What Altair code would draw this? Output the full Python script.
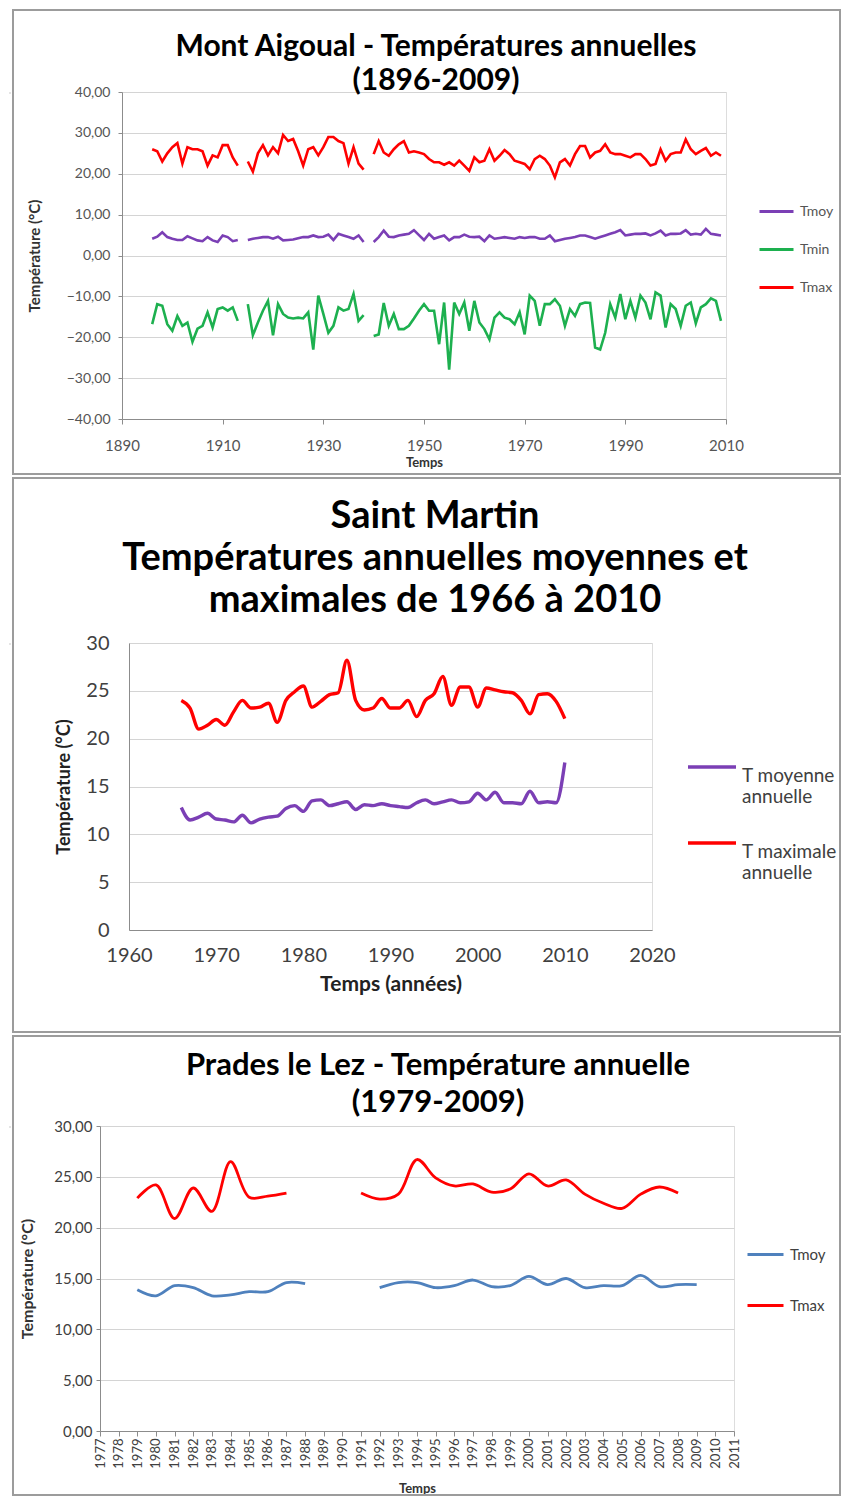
import altair as alt
import pandas as pd

FONT = "Lato"

# ---------------- Mont Aigoual (1896-2009) ; None = année manquante ----------------
aig_years = list(range(1896, 2010))
aig_tmoy = [
    4.1, 4.6, 5.7, 4.5, 4.1, 3.8, 3.8, 4.7, 4.2, 3.7, 3.5, 4.5, 3.7, 3.3, 4.9, 4.5, 3.5, 3.8,
    None,
    3.8, 4.1, 4.3, 4.5, 4.5, 4.1, 4.6, 3.7, 3.8, 3.9, 4.2, 4.5, 4.5, 4.9, 4.5, 4.6, 5.1, 3.8,
    5.3, 4.9, 4.5, 4.1, 4.9, 3.3,
    None,
    3.3, 4.5, 6.1, 4.6, 4.5, 4.9, 5.1, 5.3, 6.2, 5.0,
    3.8, 5.3, 4.1, 4.5, 4.9, 3.7, 4.5, 4.5, 5.1, 4.6,
    4.5, 4.6, 3.5, 4.9, 4.1, 4.3, 4.5, 4.3, 4.1, 4.5,
    4.3, 4.5, 4.5, 4.1, 4.1, 4.9, 3.5, 3.8, 4.1, 4.3,
    4.5, 4.9, 4.9, 4.5, 4.1, 4.5, 4.9, 5.3, 5.7, 6.2,
    4.9, 5.1, 5.3, 5.3, 5.4, 4.9, 5.4, 6.1, 4.9, 5.3,
    5.3, 5.4, 6.2, 5.1, 5.3, 5.1, 6.5, 5.3, 5.1, 4.9,
]
aig_tmin = [
    -16.8, -11.9, -12.3, -16.8, -18.4, -14.8, -17.2, -16.4, -21.1, -17.9, -17.2, -13.9,
    -17.6, -13.1, -12.7, -13.5, -12.7, -16.0,
    None,
    -11.9, -19.5, -16.4, -13.5, -11.1, -19.5, -11.9, -14.3, -15.2, -15.4, -15.2, -15.4,
    -13.9, -23.0, -9.8, -14.3, -18.9, -17.2, -12.7, -13.5, -13.1, -9.4, -16.0, -14.6,
    None,
    -19.7, -19.3, -11.6, -17.2, -14.3, -18.0, -18.0, -17.2, -15.4, -13.5,
    -11.9, -13.5, -13.5, -21.7, -11.5, -27.9, -11.5, -14.3, -11.5, -18.4,
    -11.1, -16.4, -18.0, -20.5, -15.2, -13.9, -15.2, -15.6, -16.8, -13.9,
    -19.3, -9.8, -11.1, -17.2, -11.9, -11.9, -10.7, -12.3, -17.2, -13.1,
    -14.8, -11.9, -11.5, -11.6, -22.5, -23.0, -18.9, -11.9, -15.2, -9.4,
    -15.6, -11.1, -15.2, -9.8, -11.5, -15.6, -9.0, -9.8, -17.6, -11.9,
    -13.1, -17.2, -12.3, -11.5, -16.6, -12.7, -11.9, -10.5, -11.1, -16.0,
]
aig_tmax = [
    26.0, 25.5, 23.0, 25.0, 26.5, 27.5, 22.5, 26.5, 26.0, 26.0, 25.5, 22.0, 24.5, 24.0,
    27.0, 27.0, 24.0, 22.0,
    None,
    23.0, 20.5, 25.0, 27.0, 24.5, 26.5, 25.0, 29.5, 28.0, 28.5, 25.5, 22.0, 26.0, 26.5,
    24.5, 26.5, 29.0, 29.0, 28.0, 27.5, 22.5, 26.5, 22.5, 21.0,
    None,
    24.8, 28.0, 25.2, 24.4, 26.0, 27.2, 28.0, 25.2, 25.5, 25.2,
    24.8, 23.6, 22.8, 22.8, 22.2, 22.8, 22.0, 23.2, 22.0, 20.7,
    24.0, 22.8, 23.2, 26.0, 23.2, 24.4, 25.8, 24.8, 23.2, 22.8,
    22.4, 21.1, 23.6, 24.4, 23.6, 22.0, 19.1, 22.8, 23.6, 22.0,
    24.8, 26.8, 26.8, 24.0, 25.2, 25.6, 27.2, 25.2, 24.8, 24.8,
    24.4, 24.0, 24.8, 24.8, 23.6, 22.0, 22.4, 26.0, 23.2, 24.8,
    25.2, 25.2, 28.4, 26.0, 24.8, 25.6, 26.3, 24.4, 25.2, 24.4,
]
aig_names = ["Tmoy", "Tmin", "Tmax"]
aig_colors = ["#7B3FB5", "#1DB04F", "#FF0000"]
aig_title = ["Mont Aigoual - Températures annuelles", "(1896-2009)"]
aig_xticks = [1890, 1910, 1930, 1950, 1970, 1990, 2010]
aig_yticks = [-40, -30, -20, -10, 0, 10, 20, 30, 40]

# ---------------- Saint Martin (1966-2010) ----------------
sm_years = list(range(1966, 2011))
sm_tmoy = [
    12.8, 11.5, 11.8, 12.2, 11.6, 11.5, 11.3, 12.0, 11.2, 11.6,
    11.8, 11.9, 12.7, 13.0, 12.4, 13.5, 13.6, 13.0, 13.2, 13.4,
    12.6, 13.1, 13.0, 13.2, 13.0, 12.9, 12.8, 13.3, 13.6, 13.2,
    13.4, 13.6, 13.3, 13.4, 14.3, 13.6, 14.4, 13.3, 13.3, 13.2,
    14.5, 13.3, 13.4, 13.3, 17.5,
]
sm_tmax = [
    24.0, 23.2, 21.0, 21.4, 22.0, 21.4, 22.8, 24.0, 23.2, 23.3,
    23.7, 21.7, 24.0, 24.9, 25.5, 23.3, 23.9, 24.6, 24.8, 28.2,
    24.0, 23.0, 23.2, 24.2, 23.2, 23.2, 24.0, 22.3, 24.0, 24.7,
    26.5, 23.5, 25.4, 25.4, 23.3, 25.3, 25.1, 24.9, 24.8, 24.0,
    22.6, 24.6, 24.7, 23.9, 22.1,
]
sm_names = ["T moyenne annuelle", "T maximale annuelle"]
sm_colors = ["#7B3FB5", "#FF0000"]
sm_title = ["Saint Martin", "Températures annuelles moyennes et", "maximales de 1966 à 2010"]
sm_xticks = [1960, 1970, 1980, 1990, 2000, 2010, 2020]
sm_yticks = [0, 5, 10, 15, 20, 25, 30]

# ---------------- Prades le Lez (1979-2009) ----------------
pl_years = list(range(1979, 2010))
pl_tmoy = [
    13.9, 13.3, 14.3, 14.1, 13.3, 13.4, 13.7, 13.7, 14.6, 14.5,
    None, None, None,
    14.1, 14.6, 14.6, 14.1, 14.3, 14.85, 14.2, 14.3, 15.2, 14.4, 15.0,
    14.1, 14.3, 14.3, 15.3, 14.2, 14.4, 14.4,
]
pl_tmax = [
    22.9, 24.2, 20.9, 23.9, 21.6, 26.5, 23.0, 23.1, 23.4,
    None, None, None,
    23.4, 22.8, 23.3, 26.7, 24.9, 24.1, 24.3, 23.5, 23.8, 25.3, 24.1, 24.7,
    23.3, 22.4, 21.9, 23.3, 24.0, 23.4, None,
]
pl_names = ["Tmoy", "Tmax"]
pl_colors = ["#4F81BD", "#FF0000"]
pl_title = ["Prades le Lez - Température annuelle", "(1979-2009)"]
pl_xticks = list(range(1977, 2012))
pl_yticks = [0, 5, 10, 15, 20, 25, 30]


def long_df(years, names, series):
    rows = []
    for name, vals in zip(names, series):
        seg = 0
        for yr, v in zip(years, vals):
            if v is None:
                seg += 1
                continue
            rows.append({"annee": yr, "valeur": v, "serie": name, "seg": f"{name}-{seg}"})
    return pd.DataFrame(rows)


COMMA = "replace(format(datum.value, '.2f'), '.', ',')"
GRID = "#D4D4D4"
DOMAIN = "#8C8C8C"
ONE = alt.Data(values=[{"k": 0}])


def frame(x1, x2, y1, y2):
    return alt.Chart(ONE).mark_rect(fillOpacity=0, stroke="#9C9C9C", strokeWidth=2).encode(
        x=alt.value(x1), x2=alt.value(x2), y=alt.value(y1), y2=alt.value(y2))


def heading(lines, cx, top, size, lh):
    return [
        alt.Chart(ONE).mark_text(
            font=FONT, fontSize=size, fontWeight="bold", color="black",
            align="center", baseline="top",
        ).encode(x=alt.value(cx), y=alt.value(top + i * lh), text=alt.value(t))
        for i, t in enumerate(lines)
    ]


# ---------------- Panel 1 ----------------
W1, H1 = 604, 327
df1 = long_df(aig_years, aig_names, [aig_tmoy, aig_tmin, aig_tmax])
lines1 = alt.Chart(df1).mark_line(strokeWidth=2.6).encode(
    x=alt.X("annee:Q", scale=alt.Scale(domain=[1890, 2010], nice=False, zero=False),
            axis=alt.Axis(values=aig_xticks, format="d", grid=False, title="Temps",
                          labelFlush=False, labelFont=FONT, labelFontSize=15,
                          labelColor="#555555", labelPadding=14, tickSize=5,
                          tickColor=DOMAIN, domainColor=DOMAIN,
                          titleFont=FONT, titleFontSize=13, titleFontWeight="bold",
                          titlePadding=3, titleColor="#333333")),
    y=alt.Y("valeur:Q", scale=alt.Scale(domain=[-40, 40], nice=False, zero=False),
            axis=alt.Axis(values=aig_yticks, labelExpr=COMMA, gridColor=GRID,
                          title="Température (°C)", labelFont=FONT, labelFontSize=14,
                          labelColor="#555555", labelPadding=8, tickSize=4,
                          tickColor=DOMAIN, domainColor=DOMAIN,
                          titleFont=FONT, titleFontSize=15, titleFontWeight="bold",
                          titlePadding=24, titleColor="#333333")),
    color=alt.Color("serie:N", scale=alt.Scale(domain=aig_names, range=aig_colors),
                    legend=alt.Legend(title=None, orient="none", legendX=636, legendY=101,
                                      symbolType="stroke", symbolSize=1156,
                                      symbolStrokeWidth=3, labelFont=FONT,
                                      labelFontSize=14, labelColor="#555555",
                                      labelOffset=5, rowPadding=12, padding=0)),
    detail="seg:N",
)
p1 = alt.layer(
    frame(-109, 718, -82, H1 + 55),
    *heading(aig_title, 314, -60, 30, 34),
    lines1,
).properties(width=W1, height=H1)

# ---------------- Panel 2 ----------------
W2, H2 = 523, 287
df2 = long_df(sm_years, sm_names, [sm_tmoy, sm_tmax])
lines2 = alt.Chart(df2).mark_line(strokeWidth=3.4, interpolate="monotone").encode(
    x=alt.X("annee:Q", scale=alt.Scale(domain=[1960, 2020], nice=False, zero=False),
            axis=alt.Axis(values=sm_xticks, format="d", grid=False, title="Temps (années)",
                          labelFlush=False, labelFont=FONT, labelFontSize=20,
                          labelColor="#404040", labelPadding=15, ticks=False,
                          domainColor=DOMAIN,
                          titleFont=FONT, titleFontSize=21, titleFontWeight="bold",
                          titlePadding=8, titleColor="#222222")),
    y=alt.Y("valeur:Q", scale=alt.Scale(domain=[0, 30], nice=False, zero=False),
            axis=alt.Axis(values=sm_yticks, format="d", gridColor=GRID,
                          title="Température (°C)", labelFont=FONT, labelFontSize=20,
                          labelColor="#404040", labelPadding=20, ticks=False,
                          domainColor=DOMAIN,
                          titleFont=FONT, titleFontSize=18, titleFontWeight="bold",
                          titlePadding=12, titleColor="#222222")),
    color=alt.Color("serie:N", scale=alt.Scale(domain=sm_names, range=sm_colors),
                    legend=alt.Legend(title=None, orient="none", legendX=557, legendY=98,
                                      symbolType="stroke", symbolSize=2304,
                                      symbolStrokeWidth=3.5, labelFont=FONT,
                                      labelFontSize=19, labelColor="#404040",
                                      labelExpr="[replace(datum.label, ' annuelle', ''), 'annuelle']",
                                      labelBaseline="top", labelLimit=200,
                                      labelOffset=4, rowPadding=10, padding=0)),
    detail="seg:N",
)
p2 = alt.layer(
    frame(-116, 711, -165, H2 + 102),
    *heading(sm_title, 306, -145, 38, 42),
    lines2,
).properties(width=W2, height=H2)

# ---------------- Panel 3 ----------------
W3, H3 = 634, 305
df3 = long_df(pl_years, pl_names, [pl_tmoy, pl_tmax])
lines3 = alt.Chart(df3).mark_line(strokeWidth=2.8, interpolate="catmull-rom").encode(
    x=alt.X("annee:Q", scale=alt.Scale(domain=[1977, 2011], nice=False, zero=False),
            axis=alt.Axis(values=pl_xticks, format="d", grid=False, title="Temps",
                          labelFlush=False, labelAngle=270, labelFont=FONT, labelFontSize=13,
                          labelColor="#404040", labelPadding=2, tickSize=5,
                          tickColor=DOMAIN, domainColor=DOMAIN, labelOverlap=False,
                          titleFont=FONT, titleFontSize=13, titleFontWeight="bold",
                          titlePadding=14, titleColor="#333333")),
    y=alt.Y("valeur:Q", scale=alt.Scale(domain=[0, 30], nice=False, zero=False),
            axis=alt.Axis(values=pl_yticks, labelExpr=COMMA, gridColor=GRID,
                          title="Température (°C)", labelFont=FONT, labelFontSize=15,
                          labelColor="#404040", labelPadding=4, tickSize=4,
                          tickColor=DOMAIN, domainColor=DOMAIN,
                          titleFont=FONT, titleFontSize=16, titleFontWeight="bold",
                          titlePadding=18, titleColor="#333333")),
    color=alt.Color("serie:N", scale=alt.Scale(domain=pl_names, range=pl_colors),
                    legend=alt.Legend(title=None, orient="none", legendX=646, legendY=109,
                                      symbolType="stroke", symbolSize=1296,
                                      symbolStrokeWidth=3, labelFont=FONT,
                                      labelFontSize=15, labelColor="#404040",
                                      labelOffset=5, rowPadding=23, padding=0)),
    detail="seg:N",
)
p3 = alt.layer(
    frame(-87, 740, -90, H3 + 64),
    *heading(pl_title, 338, -75, 31, 37),
    lines3,
).properties(width=W3, height=H3)

spacer = alt.Chart(ONE).mark_text(text="").encode(
    x=alt.value(0), y=alt.value(0)).properties(width=1, height=1)


def row(p):
    return alt.hconcat(spacer, p, spacing=0).resolve_scale(color="independent")


chart = (
    alt.vconcat(row(p1), row(p2), row(p3), spacing=0)
    .resolve_scale(color="independent")
    .properties(padding={"left": 0, "top": 0, "right": 0, "bottom": 0})
    .configure_view(stroke=None)
    .configure(background="white")
)

chart.save("out.html", embed_options={"renderer": "svg", "actions": False})
